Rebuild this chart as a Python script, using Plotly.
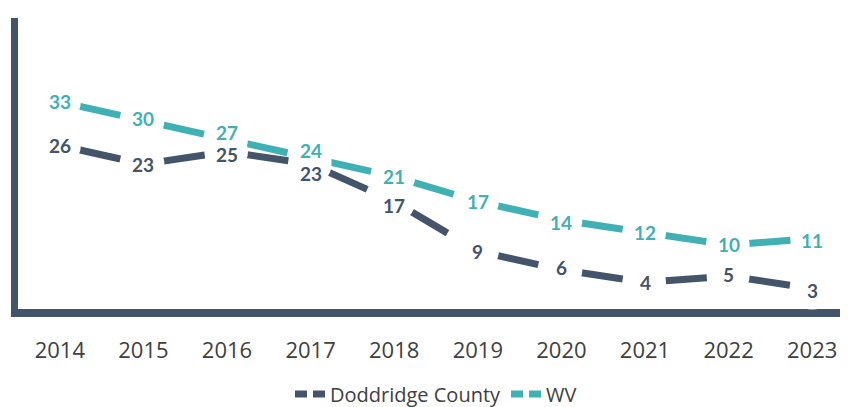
import plotly.graph_objects as go

years = ["2014", "2015", "2016", "2017", "2018", "2019", "2020", "2021", "2022", "2023"]
doddridge = [26, 23, 25, 23, 17, 9, 6, 4, 5, 3]
wv = [33, 30, 27, 24, 21, 17, 14, 12, 10, 11]

DARK = "#44546A"
TEAL = "#3FB1B4"
TXT = "#404040"

# small vertical nudges of the data labels (style, px; positive = up)
dodd_shift = [0, 0, -3, -9, -4, 0, 2, 0, 2, -2]
wv_shift = [0, 2, 7, 7, 0, 0, -2, 0, 0, -2]

fig = go.Figure()

series = [("Doddridge County", doddridge, DARK, dodd_shift),
          ("WV", wv, TEAL, wv_shift)]

# each segment as its own trace so the dash pattern restarts at every point
for name, vals, col, _ in series:
    for i in range(len(years) - 1):
        fig.add_trace(go.Scatter(
            x=years[i:i + 2], y=vals[i:i + 2], mode="lines",
            line=dict(color=col, width=7, dash="62px,500px"),
            showlegend=False, hoverinfo="skip", cliponaxis=False,
        ))

# white label masks
for name, vals, col, _ in series:
    fig.add_trace(go.Scatter(
        x=years, y=vals, mode="markers",
        marker=dict(color="white", size=42, symbol="circle", line=dict(width=0)),
        showlegend=False, hoverinfo="skip", cliponaxis=False,
    ))

# legend entries
for name, vals, col, _ in series:
    fig.add_trace(go.Scatter(
        x=[None], y=[None], mode="lines", name=name,
        line=dict(color=col, width=7, dash="12px,6px"),
    ))

# data labels (x given as category index)
for name, vals, col, shifts in series:
    for i, (v, s) in enumerate(zip(vals, shifts)):
        fig.add_annotation(
            x=i, y=v, xref="x", yref="y", text=str(v), showarrow=False, yshift=s,
            font=dict(family="Lato", size=19, color=col, weight="bold"),
        )

fig.update_layout(
    width=848, height=407,
    margin=dict(l=10, r=2, t=10, b=89),
    plot_bgcolor="white", paper_bgcolor="white",
    showlegend=True,
    legend=dict(orientation="h", x=0.5, xanchor="center", y=-0.225, yanchor="top",
                font=dict(family="Open Sans", size=20, color=TXT),
                traceorder="normal", itemwidth=30),
    xaxis=dict(type="category", range=[-0.5, 9.5], showgrid=False, zeroline=False,
               showline=True, linecolor=DARK, linewidth=8, layer="below traces",
               ticks="", tickfont=dict(family="Open Sans", size=22, color=TXT),
               ticklabelstandoff=15),
    yaxis=dict(range=[-0.3, 46.5], showgrid=False, zeroline=False, showticklabels=False,
               showline=True, linecolor=DARK, linewidth=7, ticks="", layer="below traces"),
)

fig.write_html("out.html")
